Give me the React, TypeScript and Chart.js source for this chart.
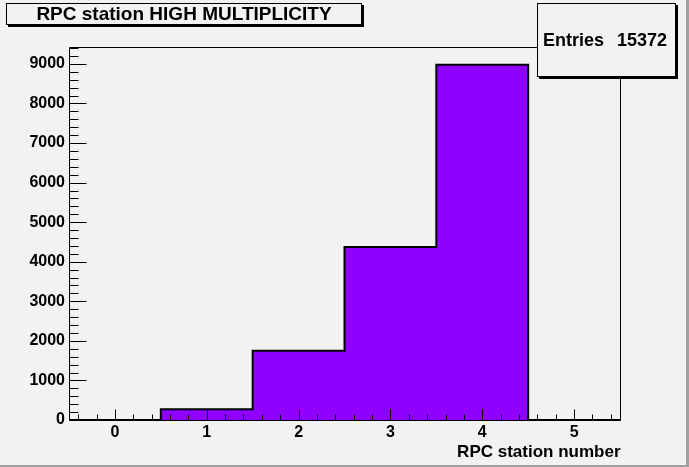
import React, { useEffect, useRef } from 'react';
import { Chart, registerables } from 'chart.js';

Chart.register(...registerables);

// ---- data ----
const stations = [0, 1, 2, 3, 4, 5];
const counts = [0, 272, 1752, 4370, 8978, 0];
const stationLabels = ['0', '1', '2', '3', '4', '5'];
const yTickValues = [0, 1000, 2000, 3000, 4000, 5000, 6000, 7000, 8000, 9000];
const titleText = 'RPC station HIGH MULTIPLICITY';
const xAxisTitle = 'RPC station number';
const entriesLabel = 'Entries';
const entriesValue = 15372;

// ---- style ----
const BG = '#f2f2f2';
const FILL = '#9000ff';
const FONT = '"Liberation Sans", Arial, Helvetica, sans-serif';
const W = 689;
const H = 467;

const rootPlugin = {
  id: 'rootStyle',
  beforeDraw(chart: any) {
    const { ctx, width, height } = chart;
    ctx.save();
    ctx.fillStyle = BG;
    ctx.fillRect(0, 0, width, height);
    ctx.fillStyle = '#a0a0a0';
    ctx.fillRect(width - 3, 0, 3, height);
    ctx.fillRect(0, height - 2, width, 2);
    ctx.restore();
  },
  afterDatasetsDraw(chart: any) {
    const { ctx, chartArea: a, scales } = chart;
    const x = scales.x;
    const y = scales.y;
    ctx.save();
    ctx.strokeStyle = '#000';
    ctx.lineWidth = 1;
    const L = Math.round(a.left) + 0.5;
    const R = Math.round(a.right) + 0.5;
    const T = Math.round(a.top) + 0.5;
    const B = Math.round(a.bottom) + 0.5;
    ctx.beginPath();
    ctx.moveTo(L, T);
    ctx.lineTo(R, T);
    ctx.lineTo(R, B);
    ctx.lineTo(L, B);
    ctx.closePath();
    ctx.stroke();

    // x ticks (inside)
    ctx.beginPath();
    for (const s of stations) {
      for (let k = -2; k <= 2; k++) {
        const v = s + k * 0.2;
        const px = Math.round(x.getPixelForValue(v)) + 0.5;
        const len = k === 0 ? 11 : 6;
        ctx.moveTo(px, B);
        ctx.lineTo(px, B - len);
      }
    }
    // y ticks (inside)
    const step = yTickValues[1] - yTickValues[0];
    for (const v of yTickValues) {
      for (let k = 0; k < 5; k++) {
        const val = v + (k * step) / 5;
        if (val > y.max) break;
        const py = Math.round(y.getPixelForValue(val)) + 0.5;
        ctx.moveTo(L, py);
        ctx.lineTo(L + (k === 0 ? 17 : 9), py);
      }
    }
    ctx.stroke();

    // x axis title
    ctx.fillStyle = '#000';
    ctx.font = `bold 17px ${FONT}`;
    ctx.textAlign = 'right';
    ctx.textBaseline = 'middle';
    ctx.fillText(xAxisTitle, R, 452);

    // boxes with ROOT-style shadow
    const box = (bx: number, by: number, bw: number, bh: number) => {
      ctx.fillStyle = '#000';
      ctx.fillRect(bx + 2, by + 2, bw, bh);
      ctx.fillStyle = BG;
      ctx.fillRect(bx, by, bw, bh);
      ctx.strokeStyle = '#000';
      ctx.lineWidth = 1;
      ctx.strokeRect(bx + 0.5, by + 0.5, bw - 1, bh - 1);
    };
    box(6, 3, 356, 22);
    ctx.fillStyle = '#000';
    ctx.font = `bold 19px ${FONT}`;
    ctx.textAlign = 'center';
    ctx.textBaseline = 'middle';
    ctx.fillText(titleText, 6 + 356 / 2, 15);

    box(537, 3, 139, 74);
    ctx.fillStyle = '#000';
    ctx.font = `bold 18px ${FONT}`;
    ctx.textBaseline = 'middle';
    ctx.textAlign = 'left';
    ctx.fillText(entriesLabel, 543, 41);
    ctx.textAlign = 'right';
    ctx.fillText(String(entriesValue), 667, 41);
    ctx.restore();
  },
};

export default function App() {
  const ref = useRef<HTMLCanvasElement | null>(null);

  useEffect(() => {
    document.body.style.margin = '0';
    const canvas = ref.current;
    if (!canvas) return;
    const last = stations.length - 1;
    const stepPoints = stations
      .map((s, i) => ({ x: s - 0.5, y: counts[i] }))
      .concat([{ x: stations[last] + 0.5, y: counts[last] }]);
    const yMax = Math.max(...counts) * 1.05;

    const chart = new Chart(canvas, {
      type: 'line',
      data: {
        datasets: [
          {
            label: 'RPC station',
            data: stepPoints,
            stepped: 'before',
            fill: 'origin',
            backgroundColor: FILL,
            borderColor: '#000',
            borderWidth: 2,
            pointRadius: 0,
          } as any,
        ],
      },
      options: {
        animation: false,
        responsive: false,
        events: [],
        layout: { padding: { top: 47, right: 69, left: 0, bottom: 0 } },
        plugins: { legend: { display: false }, tooltip: { enabled: false }, title: { display: false } },
        scales: {
          x: {
            type: 'linear',
            min: stations[0] - 0.5,
            max: stations[last] + 0.5,
            afterBuildTicks: (scale: any) => {
              scale.ticks = stations.map((v) => ({ value: v }));
            },
            afterFit: (scale: any) => {
              scale.height = 47;
            },
            grid: { display: false, drawTicks: false, tickLength: 0 },
            border: { display: false },
            ticks: {
              autoSkip: false,
              maxRotation: 0,
              padding: 3,
              color: '#000',
              font: { family: FONT, size: 16, weight: 'bold' },
              callback: (v: any) => {
                const i = stations.indexOf(Number(v));
                return i >= 0 ? stationLabels[i] : '';
              },
            },
          },
          y: {
            type: 'linear',
            min: 0,
            max: yMax,
            afterBuildTicks: (scale: any) => {
              scale.ticks = yTickValues.map((v) => ({ value: v }));
            },
            afterFit: (scale: any) => {
              scale.width = 69;
            },
            grid: { display: false, drawTicks: false, tickLength: 0 },
            border: { display: false },
            ticks: {
              autoSkip: false,
              padding: 4,
              color: '#000',
              font: { family: FONT, size: 16, weight: 'bold' },
              callback: (v: any) => String(v),
            },
          },
        },
      },
      plugins: [rootPlugin],
    });
    return () => chart.destroy();
  }, []);

  return <canvas ref={ref} width={W} height={H} style={{ display: 'block' }} />;
}
